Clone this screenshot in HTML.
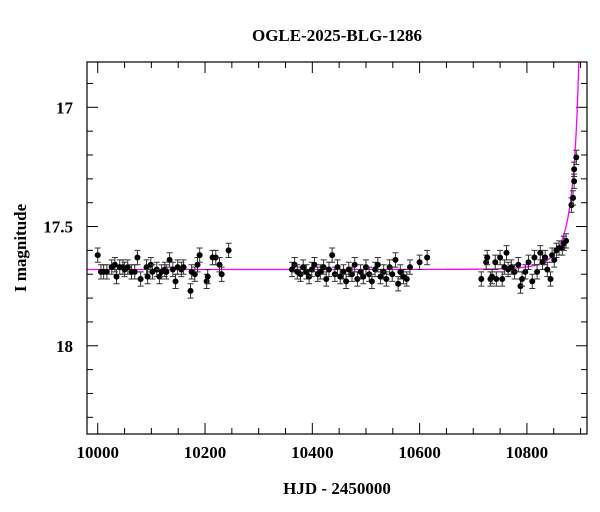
<!DOCTYPE html>
<html><head><meta charset="utf-8"><style>
body{margin:0;background:#fff}
svg{display:block;font-family:"Liberation Serif",serif}
</style></head><body>
<svg id="chart" width="600" height="512" viewBox="0 0 600 512">
<rect width="600" height="512" fill="#fff"/>
<text x="337" y="41" text-anchor="middle" font-size="17" font-weight="bold">OGLE-2025-BLG-1286</text>
<text x="337" y="494" text-anchor="middle" font-size="17" font-weight="bold">HJD - 2450000</text>
<text transform="translate(26,248) rotate(-90)" text-anchor="middle" font-size="17" font-weight="bold">I magnitude</text>
<g id="plot"></g>
</svg>
<script>
const times=[10000,10006,10011,10017,10026,10032,10035,10041,10047,10050,10056,10063,10069,10074,10080,10091,10093,10099,10102,10110,10115,10119,10125,10128,10134,10140,10145,10149,10156,10160,10173,10175,10181,10186,10190,10203,10205,10214,10220,10227,10231,10244,
10362,10367,10372,10378,10383,10389,10394,10399,10404,10410,10415,10421,10426,10431,10437,10442,10447,10452,10458,10463,10468,10474,10479,10484,10490,10495,10500,10506,10511,10517,10522,10527,10533,10538,10544,10549,10555,10560,10564,10570,10576,10582,10600,10614,
10715,10724,10726,10732,10735,10741,10743,10750,10754,10758,10762,10765,10771,10777,10784,10788,10791,10797,10803,10810,10814,10819,10825,10829,10834,10838,10844,10847,10851,10855,10860,10866,10869,10873,10883,10886,10888,10888,10892];
const mags=[17.62,17.69,17.69,17.69,17.67,17.66,17.71,17.67,17.67,17.68,17.67,17.69,17.69,17.63,17.72,17.67,17.71,17.66,17.69,17.68,17.71,17.69,17.68,17.69,17.64,17.68,17.73,17.67,17.68,17.67,17.77,17.69,17.70,17.66,17.62,17.73,17.71,17.63,17.63,17.66,17.70,17.60,
17.68,17.66,17.69,17.70,17.67,17.69,17.71,17.68,17.66,17.70,17.69,17.67,17.72,17.68,17.62,17.70,17.67,17.71,17.69,17.73,17.68,17.70,17.66,17.72,17.69,17.71,17.67,17.70,17.73,17.68,17.66,17.71,17.69,17.72,17.67,17.70,17.64,17.74,17.69,17.71,17.72,17.67,17.65,17.63,
17.72,17.65,17.63,17.72,17.71,17.65,17.72,17.63,17.72,17.67,17.61,17.68,17.67,17.69,17.66,17.75,17.72,17.69,17.65,17.73,17.63,17.69,17.61,17.65,17.63,17.68,17.72,17.62,17.64,17.60,17.59,17.59,17.57,17.56,17.41,17.38,17.31,17.26,17.21];
const errs=times.map(()=>0.03);
const xTicks=[10000,10200,10400,10600,10800];
const yTicks=[17,17.5,18];
const base=17.68,t0=10905,tE=43,u0=0.05,fs=0.3;

const L=87,R=587,T=62,B=434,X0=9980,X1=10912,Y0=16.81,Y1=18.37;
const sx=t=>L+(t-X0)/(X1-X0)*(R-L);
const sy=m=>T+(m-Y0)/(Y1-Y0)*(B-T);
const NS="http://www.w3.org/2000/svg";
const g=document.getElementById('plot');
function mk(tag,a,p){const e=document.createElementNS(NS,tag);for(const k in a)e.setAttribute(k,a[k]);(p||g).appendChild(e);return e;}
const defs=mk('defs',{});const cp=mk('clipPath',{id:'cp'},defs);mk('rect',{x:L,y:T,width:R-L,height:B-T},cp);
// ticks
for(let t=10000;t<=X1;t+=50){const maj=t%200===0;const len=maj?11:6;const x=sx(t);
 const a=mk('line',{x1:x,x2:x,y1:B,y2:B-len,stroke:'#000','stroke-width':1});
 
 
 const b=mk('line',{x1:x,x2:x,y1:T,y2:T+len,stroke:'#000','stroke-width':1});
 
 }
xTicks.forEach(t=>{const e=mk('text',{x:sx(t),y:B+24,'text-anchor':'middle','font-size':17,'font-weight':'bold'});e.textContent=t;
 
 });
for(let i=17;i<=Y1*10;i++){const m=i/10;if(m<Y0)continue;const maj=i%5===0;const len=maj?11:6;const y=sy(m);
 const a=mk('line',{x1:L,x2:L+len,y1:y,y2:y,stroke:'#000','stroke-width':1});
 
 
 const b=mk('line',{x1:R,x2:R-len,y1:y,y2:y,stroke:'#000','stroke-width':1});
 
 }
yTicks.forEach(m=>{const e=mk('text',{x:L-14,y:sy(m)+6,'text-anchor':'end','font-size':17,'font-weight':'bold'});e.textContent=m;
 
 });
// model
let d='';for(let t=X0;t<=X1;t+=0.5){const u=Math.sqrt(u0*u0+((t-t0)/tE)**2);const A=(u*u+2)/(u*Math.sqrt(u*u+4));const m=base-2.5*Math.log10(fs*A+1-fs);d+=(d?'L':'M')+sx(t).toFixed(1)+','+sy(Math.max(m,16.5)).toFixed(1);}
const c=mk('path',{d:d,fill:'none',stroke:'#ff00ff','stroke-width':1.3,'clip-path':'url(#cp)'});


// points
times.forEach((t,i)=>{const x=sx(t),y=sy(mags[i]),e=errs[i];const y1=sy(mags[i]-e),y2=sy(mags[i]+e);
 const p=mk('path',{d:`M${x},${y1}V${y2}M${x-3},${y1}H${x+3}M${x-3},${y2}H${x+3}`,stroke:'#333','stroke-width':1,fill:'none'});
 
 
 const ci=mk('circle',{cx:x,cy:y,r:3,fill:'#000'});
 
 });
const fr=mk('rect',{x:L,y:T,width:R-L,height:B-T,fill:'none',stroke:'#000','stroke-width':1.2});


</script>
</body></html>
